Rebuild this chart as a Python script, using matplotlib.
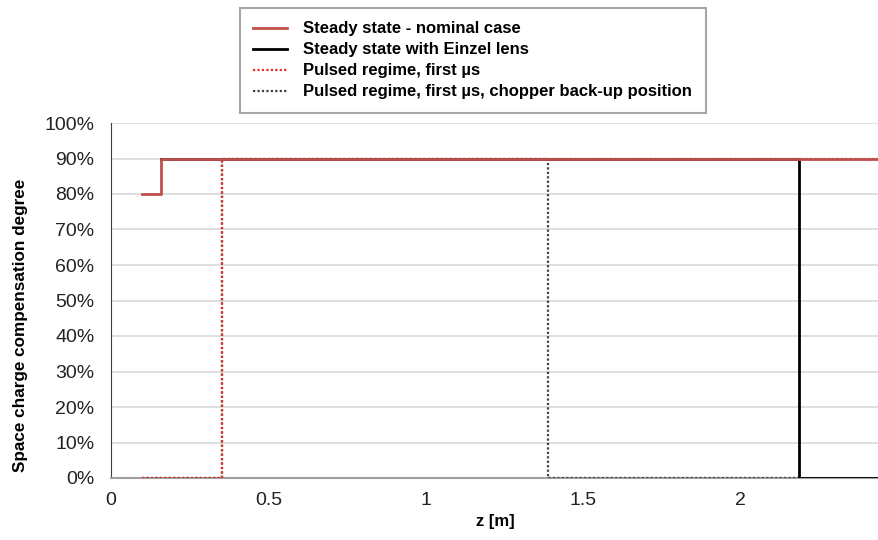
import numpy as np
import matplotlib.pyplot as plt
from matplotlib.ticker import PercentFormatter

plt.rcParams['font.family'] = ['Liberation Sans', 'DejaVu Sans']

# step curves: z [m] and compensation degree [%]
z_nominal = [0.10, 0.16, 0.16, 2.44, 2.44]
scc_nominal = [80, 80, 90, 90, 0]

z_einzel = [0.16, 2.187, 2.187, 2.44]
scc_einzel = [90, 90, 0, 0]

z_pulsed = [0.10, 0.352, 0.352, 2.44]
scc_pulsed = [0, 0, 90, 90]

z_backup = [0.10, 0.352, 0.352, 1.387, 1.387, 2.187]
scc_backup = [0, 0, 90, 90, 0, 0]

labels = ['Steady state - nominal case',
          'Steady state with Einzel lens',
          'Pulsed regime, first µs',
          'Pulsed regime, first µs, chopper back-up position']

red = '#c0504d'

fig = plt.figure(figsize=(8.79, 5.4), dpi=100)
ax = fig.add_axes([111 / 879, 1 - 478 / 540, 768 / 879, 355 / 540])

l4, = ax.plot(z_backup, scc_backup, color='#404040', ls=(0, (1, 1)), lw=1.6, zorder=3)
l3, = ax.plot(z_pulsed, scc_pulsed, color='#e0302a', ls=(0, (1, 1)), lw=1.6, zorder=3)
l2, = ax.plot(z_einzel, scc_einzel, color='black', lw=2, zorder=3)
l1, = ax.plot(z_nominal, scc_nominal, color=red, lw=2, zorder=3)

ax.set_xlim(0, 2.44)
ax.set_ylim(0, 100)
ax.set_xticks([0, 0.5, 1, 1.5, 2])
ax.set_xticklabels(['0', '0.5', '1', '1.5', '2'])
ax.set_yticks(np.arange(0, 101, 10))
ax.yaxis.set_major_formatter(PercentFormatter(decimals=0))
ax.grid(axis='y', color='#d9d9d9', lw=1.2)
ax.set_axisbelow(True)
for s in ['top', 'right']:
    ax.spines[s].set_visible(False)
ax.spines['left'].set_color('#404040')
ax.spines['bottom'].set_color('#a0a0a0')
ax.spines['bottom'].set_linewidth(1.5)
ax.tick_params(length=0, labelsize=14, colors='#222222')
ax.tick_params(axis='y', pad=12)
ax.tick_params(axis='x', pad=10)

ax.set_xlabel('z [m]', fontsize=12, fontweight='bold', labelpad=4)
ax.set_ylabel('Space charge compensation degree', fontsize=12.3,
              fontweight='bold')
ax.yaxis.set_label_coords(-0.108, 0.431)

leg = fig.legend([l1, l2, l3, l4], labels, loc='upper left',
                 bbox_to_anchor=(240 / 879, 1 - 8 / 540), frameon=True,
                 fancybox=False, edgecolor='#909090',
                 prop={'weight': 'bold', 'size': 12}, handlelength=2.0,
                 borderpad=0.8, labelspacing=0.36, handletextpad=1.0,
                 borderaxespad=0)
leg.get_frame().set_linewidth(1.5)

fig.savefig('out.png', dpi=100)
